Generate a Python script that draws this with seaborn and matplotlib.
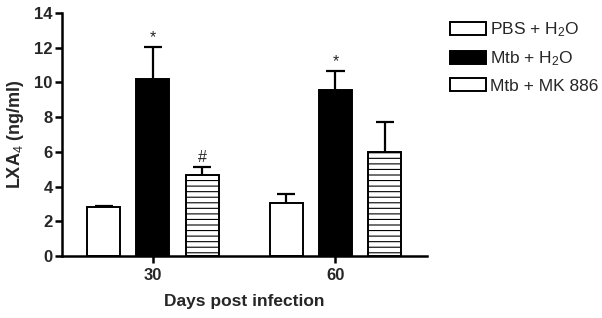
import numpy as np
import pandas as pd
import matplotlib
matplotlib.use("Agg")
import matplotlib.pyplot as plt
import seaborn as sns

# Datos
days = ["30", "60"]
groups = ["PBS + H$_2$O", "Mtb + H$_2$O", "Mtb + MK 886"]
pbs_h2o = [2.8, 3.05]
mtb_h2o = [10.2, 9.55]
mtb_mk886 = [4.65, 6.0]
err_pbs = [0.1, 0.5]
err_mtb = [1.85, 1.1]
err_mk = [0.5, 1.7]
marks = {("Mtb + H$_2$O", "30"): "*", ("Mtb + H$_2$O", "60"): "*",
         ("Mtb + MK 886", "30"): "#"}

df = pd.DataFrame({
    "day": days * 3,
    "group": [g for g in groups for _ in days],
    "value": pbs_h2o + mtb_h2o + mtb_mk886,
    "err": err_pbs + err_mtb + err_mk,
})

sns.set_style("ticks")
plt.rcParams["font.family"] = ["Liberation Sans", "DejaVu Sans"]
plt.rcParams["mathtext.fontset"] = "custom"
plt.rcParams["mathtext.rm"] = "Liberation Sans"
plt.rcParams["mathtext.it"] = "Liberation Sans"
plt.rcParams["mathtext.bf"] = "Liberation Sans:bold"
plt.rcParams["hatch.linewidth"] = 0.8

fig = plt.figure(figsize=(6.02, 3.18), dpi=100)
ax = fig.add_axes([0.1025, 0.195, 0.6063, 0.764])

colores = {groups[0]: "white", groups[1]: "black", groups[2]: "white"}
sns.barplot(data=df, x="day", y="value", hue="group", hue_order=groups,
            order=days, palette=colores, width=0.81, gap=0.33,
            edgecolor="black", linewidth=1.4, errorbar=None, ax=ax)

# Rayado horizontal y barras de error (solo hacia arriba)
for cont, g in zip(ax.containers, groups):
    sub = df[df["group"] == g].set_index("day").loc[days]
    for bar, d in zip(cont, days):
        if g == groups[2]:
            bar.set_hatch("---")
        xc = bar.get_x() + bar.get_width() / 2
        top = sub.loc[d, "value"]
        up = top + sub.loc[d, "err"]
        ax.vlines(xc, top, up, color="black", lw=1.6, zorder=1)
        ax.hlines(up, xc - 0.05, xc + 0.05, color="black", lw=1.6, zorder=1)
        if (g, d) in marks:
            ax.annotate(marks[(g, d)], (xc, up), xytext=(0, 1.5),
                        textcoords="offset points", ha="center", va="bottom",
                        fontsize=11.5)

ax.set_ylim(0, 14)
ax.set_xlim(-0.5, 1.5)
ax.set_yticks(range(0, 15, 2))
ax.set_xlabel("Days post infection", fontsize=12.5, fontweight="bold", labelpad=8)
ax.set_ylabel("LXA$_4$ (ng/ml)", fontsize=13, fontweight="bold", labelpad=6)
ax.tick_params(axis="both", width=1.8, length=5, labelsize=12, color="black")
ax.tick_params(axis="y", pad=1.5)
for lab in ax.get_xticklabels() + ax.get_yticklabels():
    lab.set_fontweight("bold")
sns.despine(ax=ax)
for s in ["left", "bottom"]:
    ax.spines[s].set_linewidth(1.8)
    ax.spines[s].set_color("black")

handles, labels = ax.get_legend_handles_labels()
ax.get_legend().remove()
fig.legend(handles, labels, loc="upper left", bbox_to_anchor=(0.747, 0.935),
           frameon=False, fontsize=12.5, handlelength=2.1, handleheight=0.8,
           handletextpad=0.25, labelspacing=0.58, borderpad=0, borderaxespad=0)

fig.savefig("out.png", dpi=100)
